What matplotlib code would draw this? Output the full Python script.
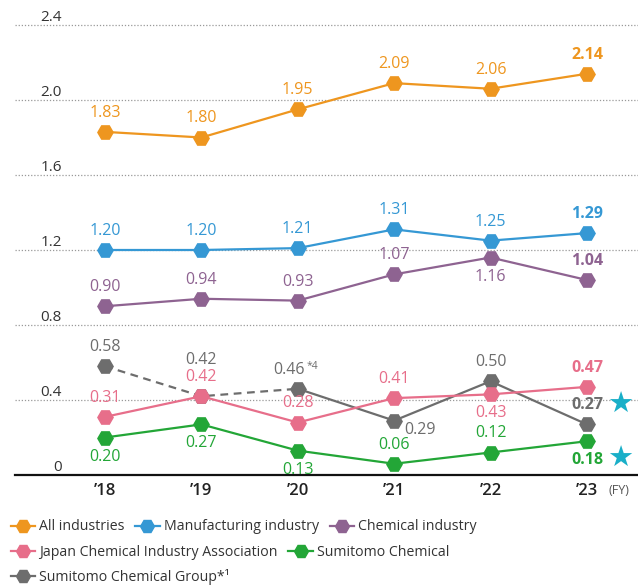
import numpy as np
import matplotlib
matplotlib.use('Agg')
import matplotlib.pyplot as plt
from matplotlib.lines import Line2D

plt.rcParams['font.family'] = ['Open Sans', 'DejaVu Sans']

years = ['’18', '’19', '’20', '’21', '’22', '’23']
all_ind = [1.83, 1.80, 1.95, 2.09, 2.06, 2.14]
manuf = [1.20, 1.20, 1.21, 1.31, 1.25, 1.29]
chem = [0.90, 0.94, 0.93, 1.07, 1.16, 1.04]
jcia = [0.31, 0.42, 0.28, 0.41, 0.43, 0.47]
sumi = [0.20, 0.27, 0.13, 0.06, 0.12, 0.18]
group = [0.58, 0.42, 0.46, 0.29, 0.50, 0.27]
y_ticks = [0, 0.4, 0.8, 1.2, 1.6, 2.0, 2.4]
y_labels = ['0', '0.4', '0.8', '1.2', '1.6', '2.0', '2.4']

c_all = '#EE961F'
c_man = '#3598D4'
c_chem = '#8E6391'
c_jcia = '#E76E8A'
c_sumi = '#23A637'
c_grp = '#6D6D6D'
c_star = '#1AAFC8'

fig = plt.figure(figsize=(6.38, 5.88), dpi=100)
ax = fig.add_axes([15/638, 113/588, 623/638, 450/588])
x = np.arange(len(years))

ms = 11
lw = 1.6

# gridlines + y labels sitting on them
lab_x = (62 - 15) / 623
for t, s in zip(y_ticks, y_labels):
    if t > 0:
        ax.axhline(t, color='#999999', lw=0.9, ls=(0, (1, 1.5)), zorder=0, clip_on=False)
    ax.text(lab_x, t, s, transform=ax.get_yaxis_transform(),
            ha='right', va='bottom', fontsize=11, color='#333333')

# gray group: dashed '18-'20, solid after
ax.plot(x[:3], group[:3], color=c_grp, lw=lw, ls=(0, (3.5, 2.5)), zorder=2)
ax.plot(x[2:], group[2:], color=c_grp, lw=lw, zorder=2)
ax.plot(x, group, color=c_grp, lw=0, marker='H', ms=ms, zorder=2)

for ser, col in [(all_ind, c_all), (manuf, c_man), (chem, c_chem), (jcia, c_jcia), (sumi, c_sumi)]:
    ax.plot(x, ser, color=col, lw=lw, marker='H', ms=ms, zorder=3)


def lab(xi, v, col, pos, bold=False, dx=0, dy=None, ha='center'):
    if dy is None:
        dy = 8 if pos == 'a' else -8
    va = 'bottom' if pos == 'a' else 'top'
    ax.annotate(f'{v:.2f}', (xi, v), xytext=(dx, dy), textcoords='offset points',
                ha=ha, va=va, fontsize=11.5, color=col,
                fontweight='bold' if bold else 'normal', zorder=5)


series_pos = [
    (all_ind, c_all, ['a'] * 6),
    (manuf, c_man, ['a'] * 6),
    (chem, c_chem, ['a', 'a', 'a', 'a', 'b', 'a']),
    (sumi, c_sumi, ['b', 'b', 'b', 'a', 'a', 'b']),
    (jcia, c_jcia, ['a', 'a', 'a', 'a', 'b', 'a']),
]
for ser, col, pos in series_pos:
    for i, (v, p) in enumerate(zip(ser, pos)):
        lab(i, v, col, p, bold=(i == 5))

# group labels
lab(0, group[0], c_grp, 'a')
lab(1, group[1], c_grp, 'a', dy=20)
lab(2, group[2], c_grp, 'a', dx=-6)
ax.annotate('*4', (2, group[2]), xytext=(6, 12), textcoords='offset points',
            ha='left', va='bottom', fontsize=7.5, color=c_grp)
lab(3, group[3], c_grp, 'b', dx=7, dy=-1, ha='left')
lab(4, group[4], c_grp, 'a')
lab(5, group[5], c_grp, 'a', bold=True)

# stars
for v, dy in [(group[5], 14), (sumi[5], -13)]:
    ax.annotate('★', (5, v), xytext=(24, dy), textcoords='offset points',
                ha='center', va='center', fontsize=21, color=c_star,
                family='DejaVu Sans')

ax.set_xlim(-0.934, 5.53)
ax.set_ylim(0, 2.4)
for s in ['top', 'right', 'left']:
    ax.spines[s].set_visible(False)
ax.spines['bottom'].set_color('#111111')
ax.spines['bottom'].set_linewidth(1.6)
ax.set_yticks([])
ax.set_xticks(x)
ax.set_xticklabels(years, fontsize=12, fontweight='semibold', color='#222222')
ax.tick_params(axis='x', length=0, pad=6)
ax.text(5.33, -0.085, '(FY)', fontsize=9, color='#555555', ha='center', va='center')


# legend rows
def h(col):
    return Line2D([], [], color=col, lw=lw, marker='H', ms=10)


rows = [
    ([h(c_all), h(c_man), h(c_chem)], ['All industries', 'Manufacturing industry', 'Chemical industry'], 527),
    ([h(c_jcia), h(c_sumi)], ['Japan Chemical Industry Association', 'Sumitomo Chemical'], 552),
    ([h(c_grp)], ['Sumitomo Chemical Group*¹'], 577),
]
for hs, ls_, ypx in rows:
    leg = fig.legend(hs, ls_, loc='center left', bbox_to_anchor=(11/638, 1 - ypx/588),
                     ncol=len(hs), frameon=False, fontsize=10.2, handlelength=1.7,
                     handletextpad=0.3, columnspacing=0.75, borderaxespad=0, borderpad=0)
    for t in leg.get_texts():
        t.set_color('#333333')

fig.savefig('out.png', dpi=100)
